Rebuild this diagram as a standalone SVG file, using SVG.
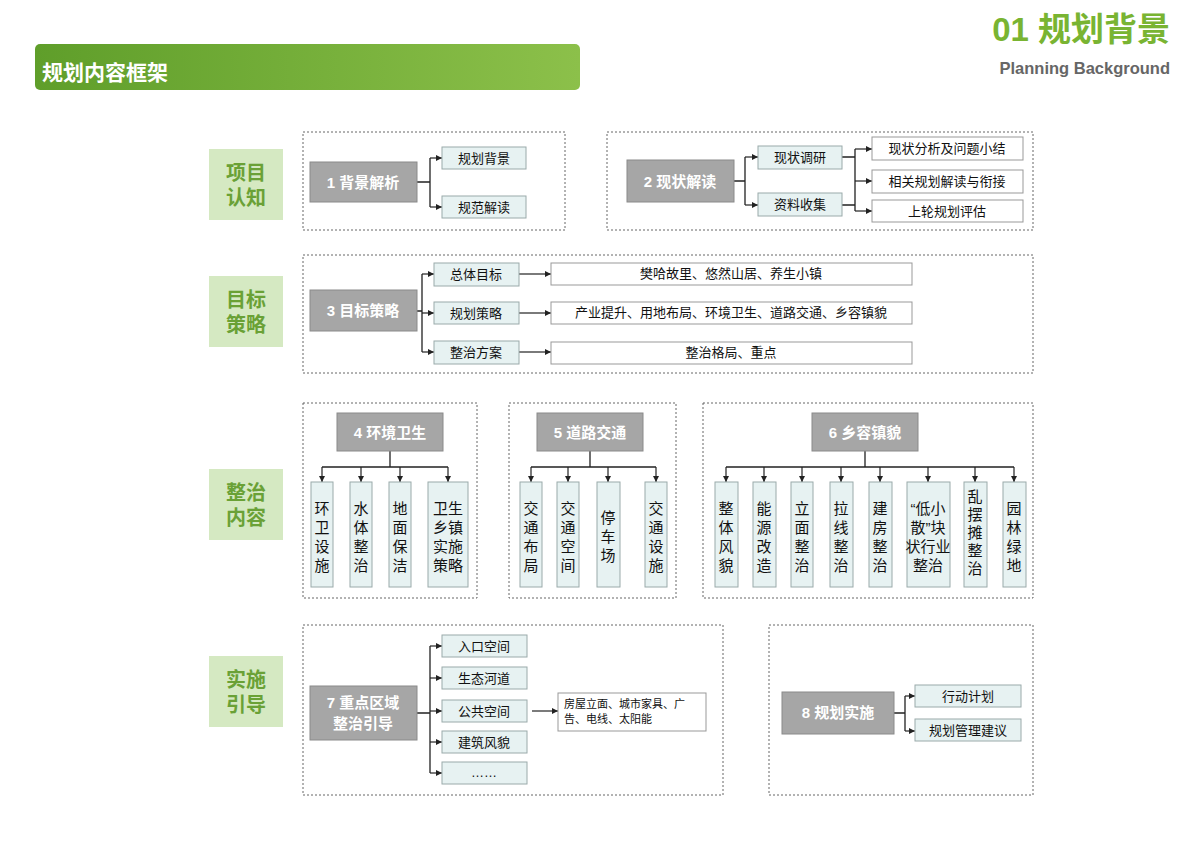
<svg xmlns="http://www.w3.org/2000/svg" width="1200" height="849" viewBox="0 0 1200 849">
<defs>
<linearGradient id="hg" x1="0" y1="0" x2="1" y2="0"><stop offset="0" stop-color="#5f9e2a"/><stop offset="1" stop-color="#8cc04a"/></linearGradient>
<marker id="ar" viewBox="0 0 6 6" refX="6" refY="3" markerWidth="5" markerHeight="5" orient="auto"><path d="M0,0 L6,3 L0,6 z" fill="#222"/></marker>
<style>
text{font-family:"Liberation Sans","Noto Sans CJK SC",sans-serif}
.sec{fill:none;stroke:#666;stroke-dasharray:2,2;stroke-width:1}
.lab{fill:#d5e9c2}
.labt{fill:#6aa136;font-size:20px;font-weight:bold;text-anchor:middle}
.g{fill:#a6a6a6;stroke:#8a8a8a;stroke-width:1}
.gt{fill:#fff;font-size:15px;font-weight:bold;text-anchor:middle}
.c{fill:#e7f2f2;stroke:#9aaaaa;stroke-width:1}
.w{fill:#fff;stroke:#999;stroke-width:1}
.ct{fill:#111;font-size:13px;text-anchor:middle}
.vt{fill:#111;font-size:15px;text-anchor:middle}
.ln{fill:none;stroke:#222;stroke-width:1.3}
.la{fill:none;stroke:#222;stroke-width:1.2;marker-end:url(#ar)}
</style>
</defs>
<rect width="1200" height="849" fill="#fff"/>
<g id="header">
<rect x="35" y="44" width="545" height="46" rx="5" fill="url(#hg)"/>
<text x="42" y="80" fill="#fff" font-size="21" font-weight="bold">规划内容框架</text>
<text x="1170" y="41" fill="#79b432" font-size="33" font-weight="bold" text-anchor="end">01 规划背景</text>
<text x="1170" y="74" fill="#666" font-size="16.5" font-weight="bold" text-anchor="end">Planning Background</text>
</g>
<g id="labels">
<rect class="lab" x="209" y="149" width="74" height="71"/><text class="labt" x="246" y="180">项目</text><text class="labt" x="246" y="205">认知</text>
<rect class="lab" x="209" y="276" width="74" height="71"/><text class="labt" x="246" y="307">目标</text><text class="labt" x="246" y="332">策略</text>
<rect class="lab" x="209" y="469" width="74" height="71"/><text class="labt" x="246" y="500">整治</text><text class="labt" x="246" y="525">内容</text>
<rect class="lab" x="209" y="656" width="74" height="71"/><text class="labt" x="246" y="687">实施</text><text class="labt" x="246" y="712">引导</text>
</g>
<g id="sections">
<rect class="sec" x="303" y="132" width="262" height="98"/>
<rect class="sec" x="607" y="132" width="426" height="98"/>
<rect class="sec" x="303" y="255" width="730" height="118"/>
<rect class="sec" x="303" y="403" width="174" height="195"/>
<rect class="sec" x="509" y="403" width="167" height="195"/>
<rect class="sec" x="703" y="403" width="330" height="195"/>
<rect class="sec" x="303" y="625" width="420" height="170"/>
<rect class="sec" x="769" y="625" width="264" height="170"/>
</g>
<g id="connectors">
<path class="ln" d="M417,182 H430 M430,158 V207"/><path class="la" d="M430,158 H442"/><path class="la" d="M430,207 H442"/>
<path class="ln" d="M734,181 H745 M745,157 V205"/><path class="la" d="M745,157 H758"/><path class="la" d="M745,205 H758"/>
<path class="ln" d="M842,157 H855 M842,205 H855 M855,149 V211"/><path class="la" d="M855,149 H872"/><path class="la" d="M855,181 H872"/><path class="la" d="M855,211 H872"/>
<path class="ln" d="M417,311 H422 M422,274 V352"/><path class="la" d="M422,274 H434"/><path class="la" d="M422,313 H434"/><path class="la" d="M422,352 H434"/>
<path class="la" d="M519,274 H551"/><path class="la" d="M519,313 H551"/><path class="la" d="M519,352 H551"/>
<path class="ln" d="M390,451 V467 M322,467 H448"/><path class="la" d="M322,467 V482"/><path class="la" d="M361,467 V482"/><path class="la" d="M400,467 V482"/><path class="la" d="M448,467 V482"/>
<path class="ln" d="M590,451 V467 M531,467 H656"/><path class="la" d="M531,467 V482"/><path class="la" d="M568,467 V482"/><path class="la" d="M608,467 V482"/><path class="la" d="M656,467 V482"/>
<path class="ln" d="M865,451 V467 M726,467 H1014"/><path class="la" d="M726,467 V482"/><path class="la" d="M764,467 V482"/><path class="la" d="M802,467 V482"/><path class="la" d="M841,467 V482"/><path class="la" d="M880,467 V482"/><path class="la" d="M928,467 V482"/><path class="la" d="M975,467 V482"/><path class="la" d="M1014,467 V482"/>
<path class="ln" d="M417,713 H430 M430,646 V773"/><path class="la" d="M430,646 H442"/><path class="la" d="M430,678 H442"/><path class="la" d="M430,711 H442"/><path class="la" d="M430,742 H442"/><path class="la" d="M430,773 H442"/>
<path class="la" d="M532,711 H558" stroke="#999"/>
<path class="ln" d="M894,713 H905 M905,696 V731"/><path class="la" d="M905,696 H915"/><path class="la" d="M905,731 H915"/>
</g>
<g id="n1"><rect class="g" x="310" y="162" width="107" height="40"/><text class="gt" x="363" y="188">1 背景解析</text></g>
<g id="n1a"><rect class="c" x="442" y="147" width="84" height="22"/><text class="ct" x="484" y="163">规划背景</text></g>
<g id="n1b"><rect class="c" x="442" y="196" width="84" height="22"/><text class="ct" x="484" y="212">规范解读</text></g>
<g id="n2"><rect class="g" x="627" y="160" width="107" height="42"/><text class="gt" x="680" y="187">2 现状解读</text></g>
<g id="n2a"><rect class="c" x="758" y="146" width="84" height="23"/><text class="ct" x="800" y="162">现状调研</text></g>
<g id="n2b"><rect class="c" x="758" y="193" width="84" height="23"/><text class="ct" x="800" y="209">资料收集</text></g>
<g id="n2c"><rect class="w" x="872" y="137" width="151" height="23"/><text class="ct" x="947" y="153" font-size="12">现状分析及问题小结</text></g>
<g id="n2d"><rect class="w" x="872" y="170" width="151" height="23"/><text class="ct" x="947" y="186" font-size="12">相关规划解读与衔接</text></g>
<g id="n2e"><rect class="w" x="872" y="200" width="151" height="22"/><text class="ct" x="947" y="216" font-size="12">上轮规划评估</text></g>
<g id="n3"><rect class="g" x="310" y="290" width="107" height="41"/><text class="gt" x="363" y="316">3 目标策略</text></g>
<g id="n3a"><rect class="c" x="434" y="263" width="85" height="23"/><text class="ct" x="476" y="279">总体目标</text></g>
<g id="n3b"><rect class="c" x="434" y="302" width="85" height="22"/><text class="ct" x="476" y="318">规划策略</text></g>
<g id="n3c"><rect class="c" x="434" y="341" width="85" height="23"/><text class="ct" x="476" y="357">整治方案</text></g>
<g id="n3d"><rect class="w" x="551" y="263" width="361" height="22"/><text class="ct" x="731" y="278" font-size="11">樊哈故里、悠然山居、养生小镇</text></g>
<g id="n3e"><rect class="w" x="551" y="302" width="361" height="22"/><text class="ct" x="731" y="317" font-size="11">产业提升、用地布局、环境卫生、道路交通、乡容镇貌</text></g>
<g id="n3f"><rect class="w" x="551" y="342" width="361" height="22"/><text class="ct" x="731" y="357" font-size="11">整治格局、重点</text></g>
<g id="n4"><rect class="g" x="337" y="413" width="106" height="38"/><text class="gt" x="390" y="438">4 环境卫生</text></g>
<g id="n4a"><rect class="c" x="311" y="482" width="22" height="105"/><text class="vt" x="322" y="514">环</text><text class="vt" x="322" y="533">卫</text><text class="vt" x="322" y="552">设</text><text class="vt" x="322" y="571">施</text></g>
<g id="n4b"><rect class="c" x="350" y="482" width="22" height="105"/><text class="vt" x="361" y="514">水</text><text class="vt" x="361" y="533">体</text><text class="vt" x="361" y="552">整</text><text class="vt" x="361" y="571">治</text></g>
<g id="n4c"><rect class="c" x="389" y="482" width="22" height="105"/><text class="vt" x="400" y="514">地</text><text class="vt" x="400" y="533">面</text><text class="vt" x="400" y="552">保</text><text class="vt" x="400" y="571">洁</text></g>
<g id="n4d"><rect class="c" x="428" y="482" width="40" height="105"/><text class="vt" x="448" y="514">卫生</text><text class="vt" x="448" y="533">乡镇</text><text class="vt" x="448" y="552">实施</text><text class="vt" x="448" y="571">策略</text></g>
<g id="n5"><rect class="g" x="537" y="413" width="106" height="38"/><text class="gt" x="590" y="438">5 道路交通</text></g>
<g id="n5a"><rect class="c" x="520" y="482" width="22" height="105"/><text class="vt" x="531" y="514">交</text><text class="vt" x="531" y="533">通</text><text class="vt" x="531" y="552">布</text><text class="vt" x="531" y="571">局</text></g>
<g id="n5b"><rect class="c" x="557" y="482" width="22" height="105"/><text class="vt" x="568" y="514">交</text><text class="vt" x="568" y="533">通</text><text class="vt" x="568" y="552">空</text><text class="vt" x="568" y="571">间</text></g>
<g id="n5c"><rect class="c" x="597" y="482" width="23" height="105"/><text class="vt" x="608" y="523">停</text><text class="vt" x="608" y="542">车</text><text class="vt" x="608" y="561">场</text></g>
<g id="n5d"><rect class="c" x="645" y="482" width="22" height="105"/><text class="vt" x="656" y="514">交</text><text class="vt" x="656" y="533">通</text><text class="vt" x="656" y="552">设</text><text class="vt" x="656" y="571">施</text></g>
<g id="n6"><rect class="g" x="812" y="413" width="106" height="38"/><text class="gt" x="865" y="438">6 乡容镇貌</text></g>
<g id="n6a"><rect class="c" x="715" y="482" width="23" height="105"/><text class="vt" x="726" y="514">整</text><text class="vt" x="726" y="533">体</text><text class="vt" x="726" y="552">风</text><text class="vt" x="726" y="571">貌</text></g>
<g id="n6b"><rect class="c" x="753" y="482" width="23" height="105"/><text class="vt" x="764" y="514">能</text><text class="vt" x="764" y="533">源</text><text class="vt" x="764" y="552">改</text><text class="vt" x="764" y="571">造</text></g>
<g id="n6c"><rect class="c" x="791" y="482" width="22" height="105"/><text class="vt" x="802" y="514">立</text><text class="vt" x="802" y="533">面</text><text class="vt" x="802" y="552">整</text><text class="vt" x="802" y="571">治</text></g>
<g id="n6d"><rect class="c" x="830" y="482" width="23" height="105"/><text class="vt" x="841" y="514">拉</text><text class="vt" x="841" y="533">线</text><text class="vt" x="841" y="552">整</text><text class="vt" x="841" y="571">治</text></g>
<g id="n6e"><rect class="c" x="869" y="482" width="23" height="105"/><text class="vt" x="880" y="514">建</text><text class="vt" x="880" y="533">房</text><text class="vt" x="880" y="552">整</text><text class="vt" x="880" y="571">治</text></g>
<g id="n6f"><rect class="c" x="907" y="482" width="43" height="105"/><text class="vt" x="928" y="514">“低小</text><text class="vt" x="928" y="533">散”块</text><text class="vt" x="928" y="552">状行业</text><text class="vt" x="928" y="571">整治</text></g>
<g id="n6g"><rect class="c" x="964" y="482" width="23" height="105"/><text class="vt" x="975" y="502">乱</text><text class="vt" x="975" y="520">摆</text><text class="vt" x="975" y="538">摊</text><text class="vt" x="975" y="556">整</text><text class="vt" x="975" y="574">治</text></g>
<g id="n6h"><rect class="c" x="1003" y="482" width="23" height="105"/><text class="vt" x="1014" y="514">园</text><text class="vt" x="1014" y="533">林</text><text class="vt" x="1014" y="552">绿</text><text class="vt" x="1014" y="571">地</text></g>
<g id="n7"><rect class="g" x="310" y="686" width="107" height="54"/><text class="gt" x="363" y="708">7 重点区域</text><text class="gt" x="363" y="729">整治引导</text></g>
<g id="n7a"><rect class="c" x="442" y="635" width="85" height="22"/><text class="ct" x="484" y="651">入口空间</text></g>
<g id="n7b"><rect class="c" x="442" y="667" width="85" height="22"/><text class="ct" x="484" y="683">生态河道</text></g>
<g id="n7c"><rect class="c" x="442" y="700" width="85" height="22"/><text class="ct" x="484" y="716">公共空间</text></g>
<g id="n7d"><rect class="c" x="442" y="731" width="85" height="22"/><text class="ct" x="484" y="747">建筑风貌</text></g>
<g id="n7e"><rect class="c" x="442" y="762" width="85" height="22"/><text class="ct" x="484" y="777">……</text></g>
<g id="n7f"><rect class="w" x="558" y="693" width="148" height="38"/><text x="564" y="708" font-size="11" fill="#111">房屋立面、城市家具、广</text><text x="564" y="723" font-size="11" fill="#111">告、电线、太阳能</text></g>
<g id="n8"><rect class="g" x="782" y="692" width="112" height="42"/><text class="gt" x="838" y="718">8 规划实施</text></g>
<g id="n8a"><rect class="c" x="915" y="685" width="106" height="22"/><text class="ct" x="968" y="701">行动计划</text></g>
<g id="n8b"><rect class="c" x="915" y="719" width="106" height="22"/><text class="ct" x="968" y="735">规划管理建议</text></g>
</svg>
